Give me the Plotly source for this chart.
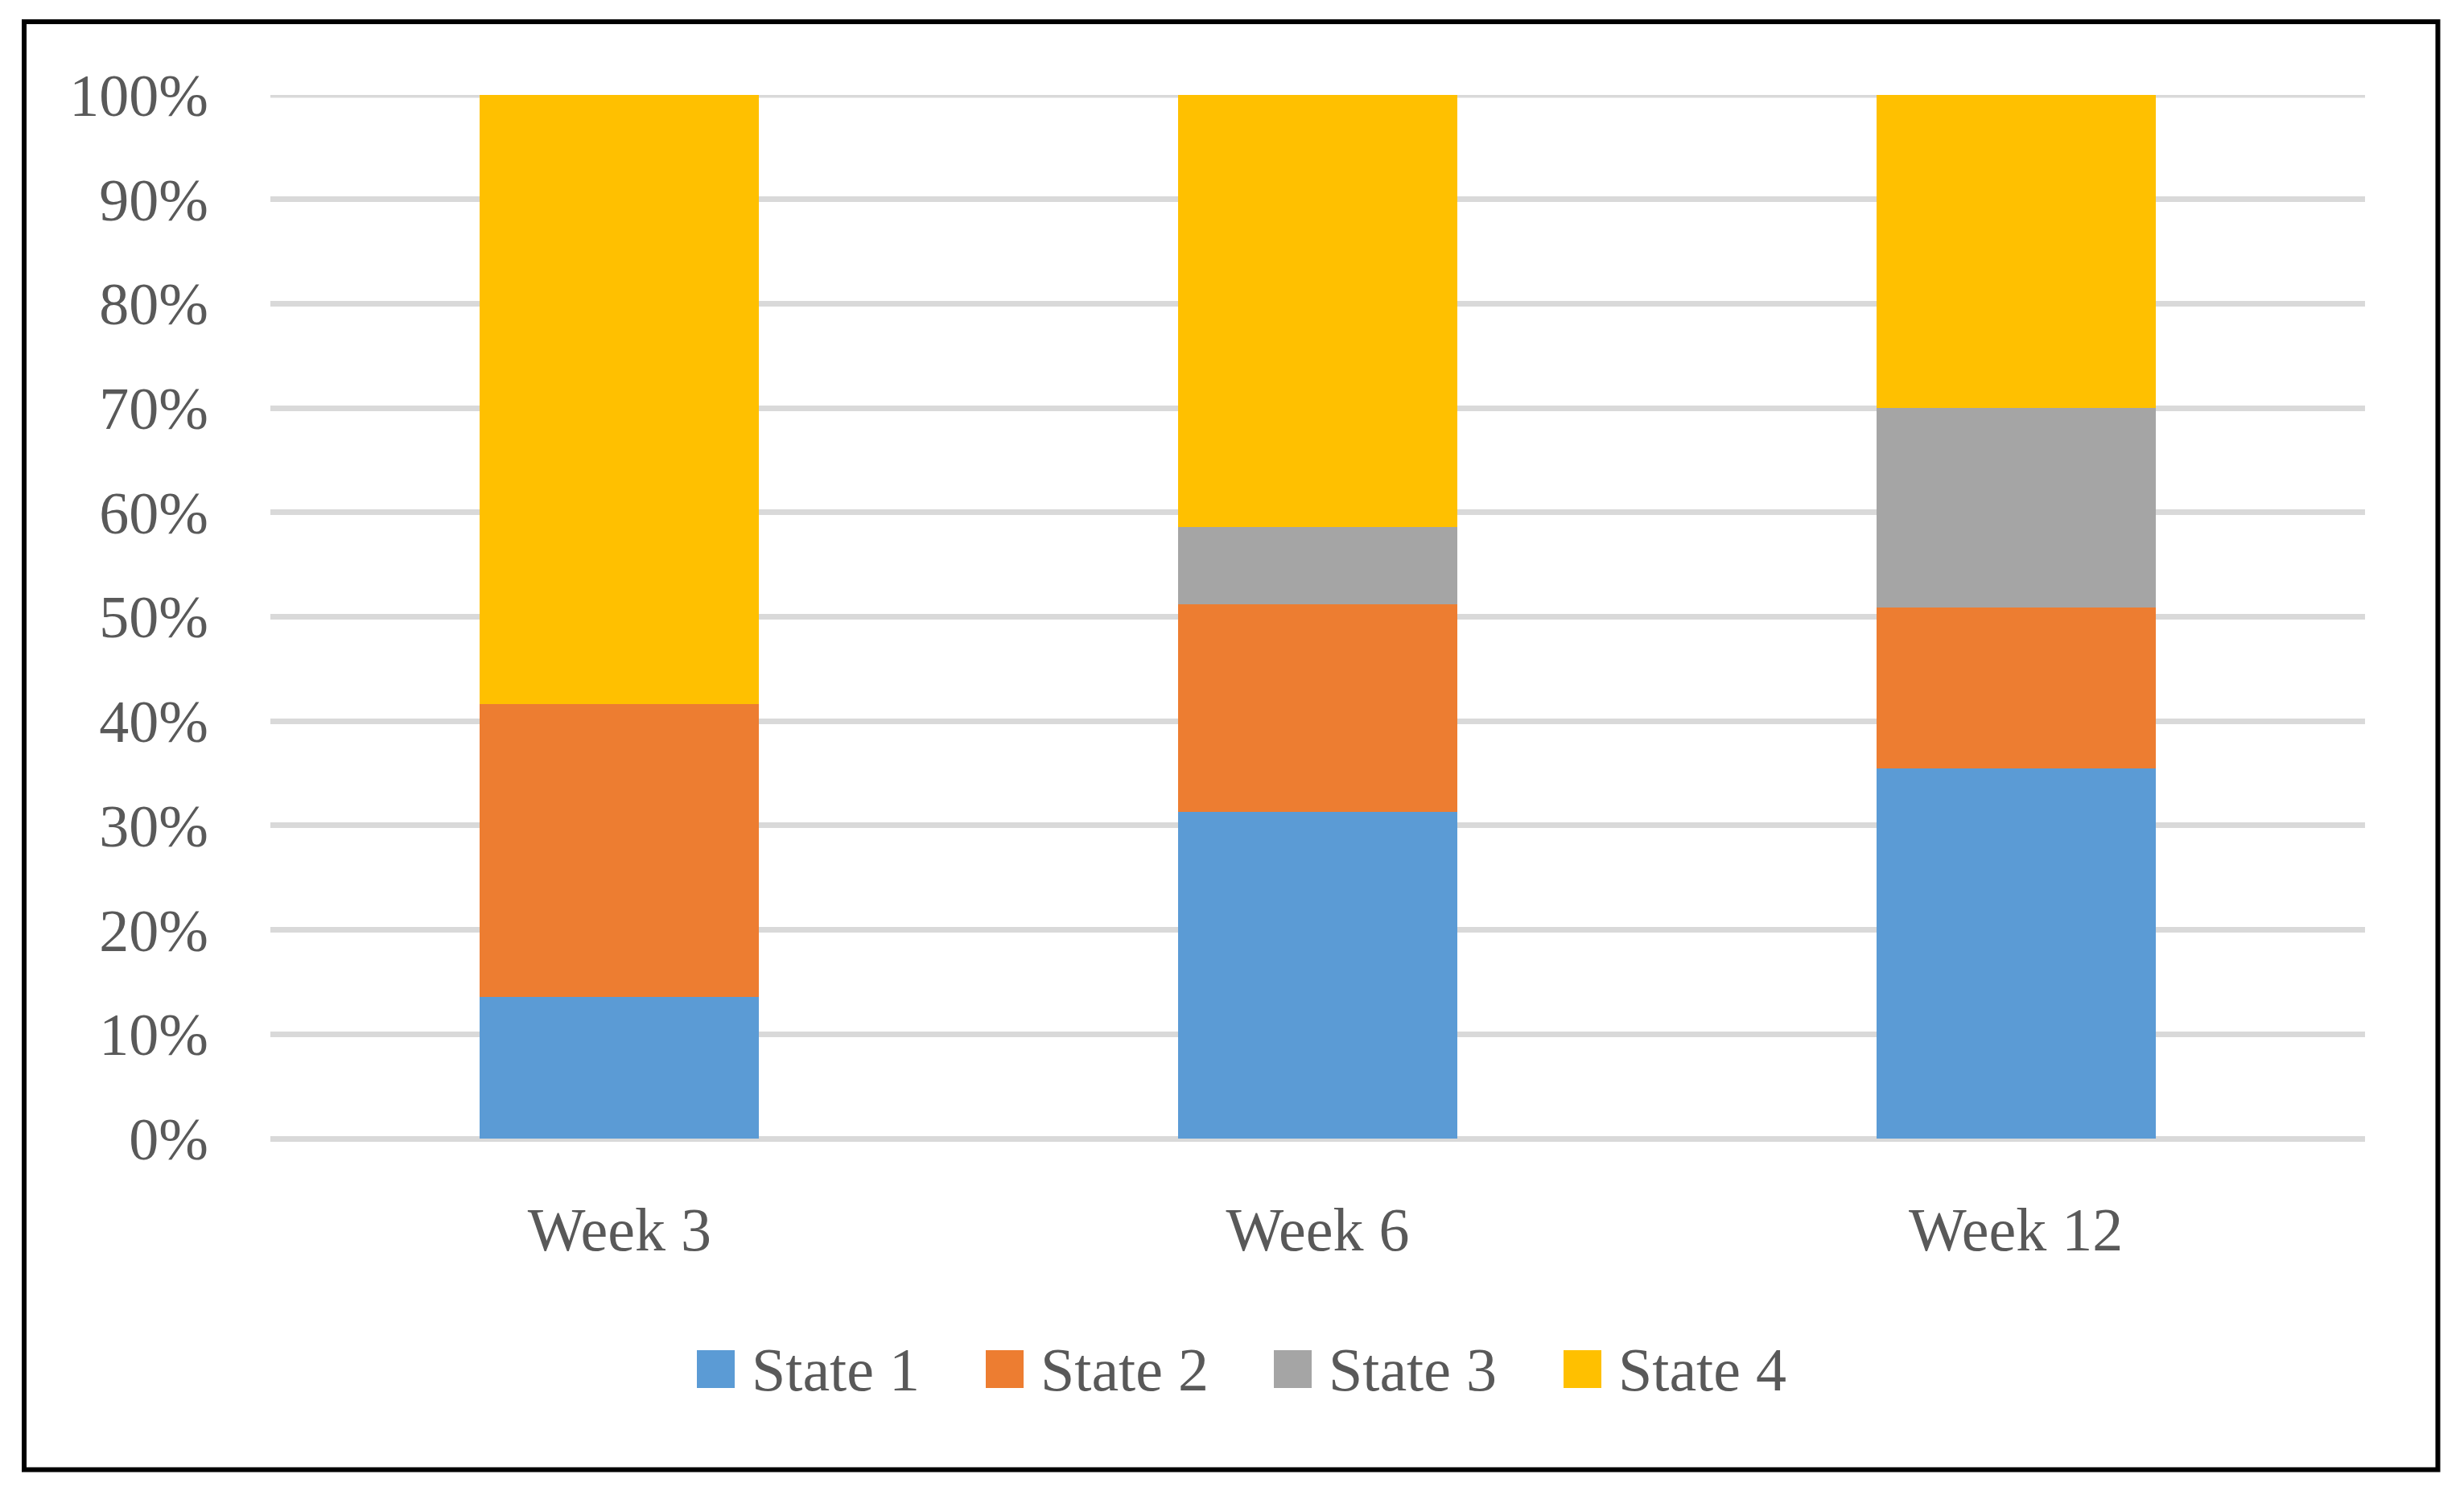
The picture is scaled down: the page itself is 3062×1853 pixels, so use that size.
import plotly.graph_objects as go

categories = ["Week 3", "Week 6", "Week 12"]
series_names = ["State 1", "State 2", "State 3", "State 4"]
state1 = [0.136, 0.313, 0.355]
state2 = [0.280, 0.199, 0.154]
state3 = [0.000, 0.074, 0.191]
state4 = [0.584, 0.414, 0.300]
colors = ["#5B9BD5", "#ED7D31", "#A5A5A5", "#FFC000"]
y_ticks = [i / 10 for i in range(11)]

OFF = 8  # default page body margin
W, H = 3062 - OFF, 1853 - OFF
PL, PR, PT, PB = 336 - OFF, 2939 - OFF, 118 - OFF, 1415 - OFF  # plot area (figure px)


def fx(px):
    px -= OFF
    return (px - PL) / (PR - PL)


def fy(py):
    py -= OFF
    return (PB - py) / (PB - PT)


FONT = "Liberation Serif"
TXT = "#595959"
GRID = "#D9D9D9"

fig = go.Figure()
for name, vals, col in zip(series_names, [state1, state2, state3, state4], colors):
    fig.add_trace(go.Bar(x=categories, y=vals, name=name, marker_color=col,
                         marker_line_width=0, showlegend=False))

fig.update_layout(
    width=W, height=H, barmode="stack", bargap=0.6,
    paper_bgcolor="white", plot_bgcolor="white",
    margin=dict(l=PL, r=W - PR, t=PT, b=H - PB, pad=0),
    font=dict(family=FONT, color=TXT, size=76),
)
fig.update_yaxes(range=[0, 1], tickvals=y_ticks, tickformat=".0%",
                 showgrid=True, gridcolor=GRID, gridwidth=7,
                 zeroline=True, zerolinecolor=GRID, zerolinewidth=7,
                 showline=False, ticks="", ticklabelstandoff=76,
                 tickfont=dict(family=FONT, size=74, color=TXT))
fig.update_xaxes(showline=False, ticks="", showgrid=False,
                 ticklabelstandoff=62,
                 tickfont=dict(family=FONT, size=76, color=TXT))

# make sure the top (100%) gridline is visible
fig.add_shape(type="line", xref="paper", yref="y", x0=0, x1=1, y0=y_ticks[-1], y1=y_ticks[-1],
              line=dict(color=GRID, width=7), layer="below")

# outer frame
fig.add_shape(type="rect", xref="paper", yref="paper",
              x0=fx(30), x1=fx(3029.5), y0=fy(1826.5), y1=fy(27),
              line=dict(color="black", width=6), fillcolor="rgba(0,0,0,0)", layer="above")

# manual legend
sq_x = [866, 1225, 1583, 1943]
sq = 47
for name, col, x0 in zip(series_names, colors, sq_x):
    fig.add_shape(type="rect", xref="paper", yref="paper",
                  x0=fx(x0), x1=fx(x0 + sq), y0=fy(1725), y1=fy(1678),
                  line=dict(width=0), fillcolor=col)
    fig.add_annotation(xref="paper", yref="paper", x=fx(x0 + sq + 19), y=fy(1702),
                       text=name, showarrow=False, xanchor="left", yanchor="middle",
                       font=dict(family=FONT, size=76, color=TXT))

fig.write_html("out.html")
